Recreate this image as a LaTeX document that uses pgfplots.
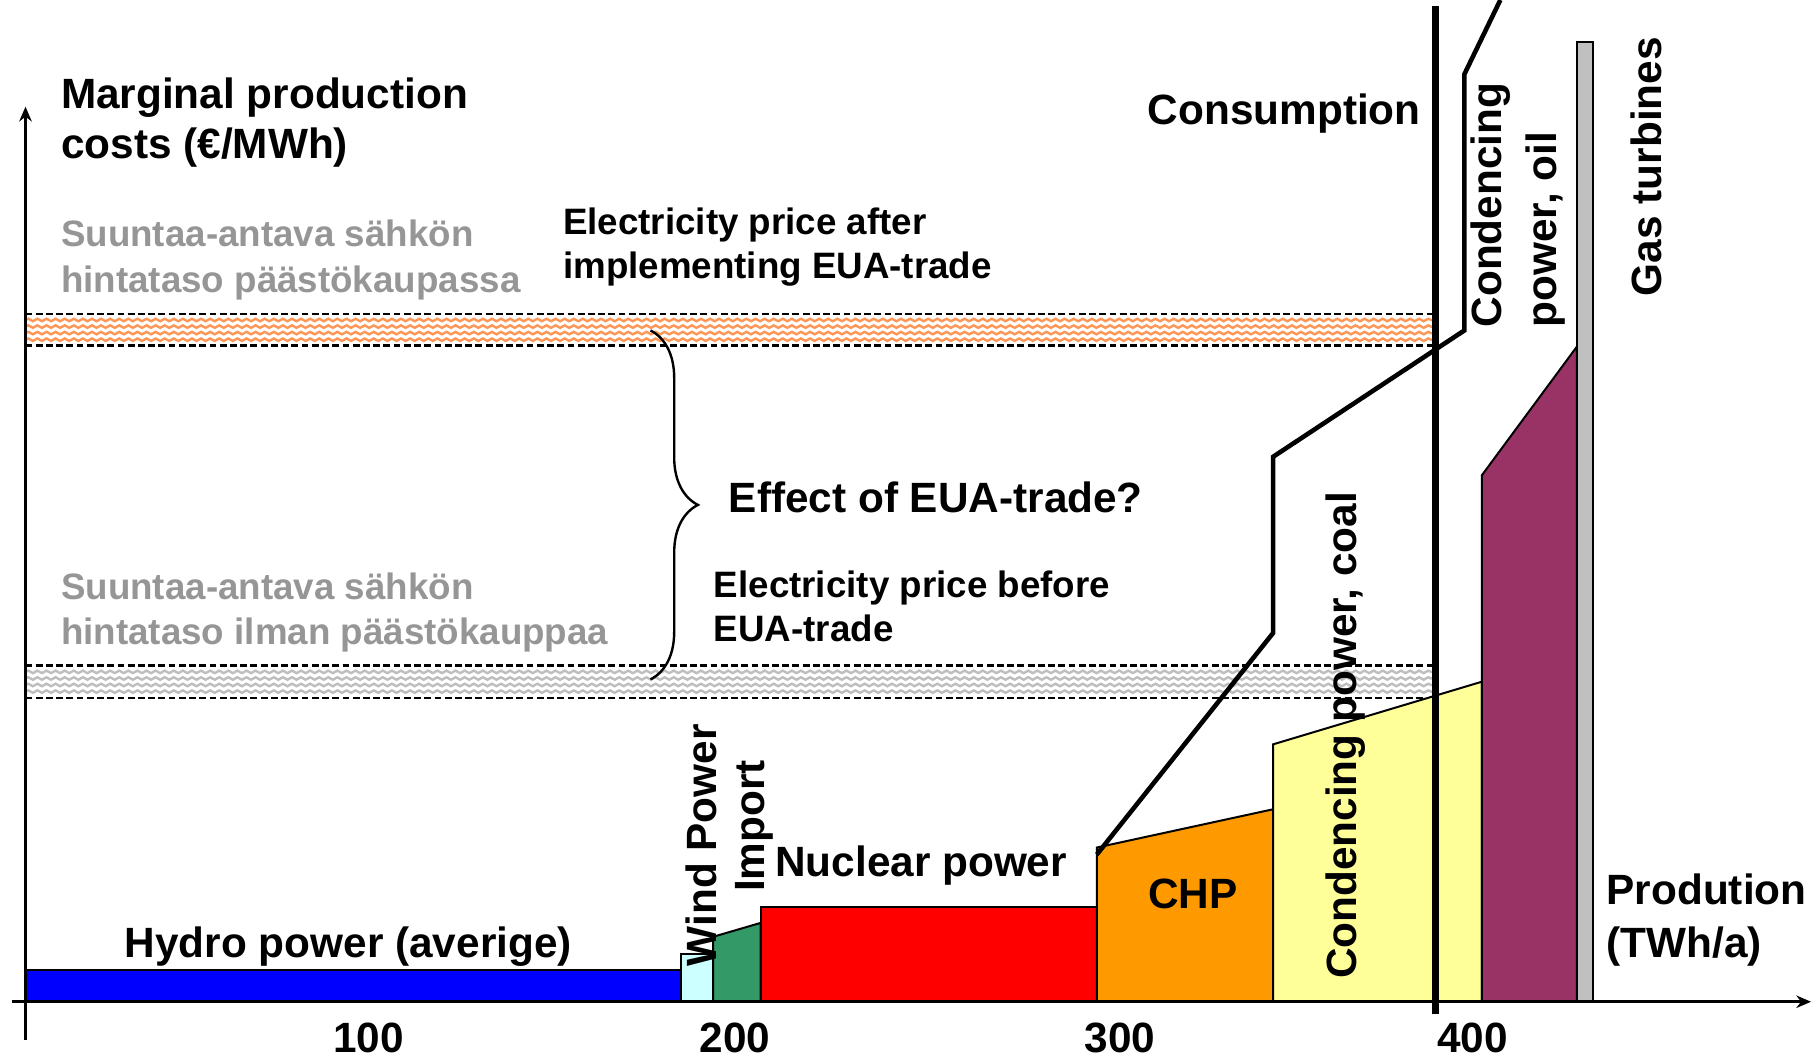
\documentclass[border=0pt]{standalone}
\usepackage{fontspec}
\setmainfont{Liberation Sans}
\usepackage{pgfplots}
\pgfplotsset{compat=1.18}
\usetikzlibrary{arrows.meta,decorations.pathmorphing,decorations.pathreplacing}

\definecolor{hydro}{RGB}{0,0,255}
\definecolor{wind}{RGB}{204,255,255}
\definecolor{import}{RGB}{51,153,102}
\definecolor{nuclear}{RGB}{255,0,0}
\definecolor{chp}{RGB}{255,153,0}
\definecolor{coal}{RGB}{255,255,153}
\definecolor{oil}{RGB}{153,51,102}
\definecolor{gas}{RGB}{192,192,192}
\definecolor{txtgray}{RGB}{150,150,150}
\definecolor{waveorange}{RGB}{255,150,85}
\definecolor{wavegray}{RGB}{190,190,190}

\newcommand\Lfont{\fontsize{10.6}{12.7}\selectfont\bfseries}
\newcommand\Sfont{\fontsize{9.2}{11.3}\selectfont\bfseries}

\pgfplotsset{
  wave/.style={line width=0.6pt, decorate, decoration={snake, amplitude=0.11mm, segment length=0.8mm}},
  bandedge/.style={black, line width=0.6pt, dash pattern=on 0.6mm off 0.3mm},
  block/.style={draw=black, line width=0.5pt},
}

\begin{document}
\begin{tikzpicture}
\begin{axis}[
  scale only axis, width=16cm, height=9.3163cm,
  xmin=-22, xmax=1546, ymin=-49, ymax=864,
  axis lines=middle, axis line style={draw=none,-},
  ytick=\empty, xtick={296,612,944,1248},
  xticklabels={\textbf{100},\textbf{200},\textbf{300},\textbf{400}},
  major tick length=0pt,
  xticklabel style={font=\Lfont, anchor=base, yshift=-0.449cm, inner sep=0pt},
  clip=false,
]
% ---- price bands (after / before EUA-trade)
\addplot[waveorange, wave] coordinates {(0,571) (1216,571)};
\addplot[waveorange, wave] coordinates {(0,576.7) (1216,576.7)};
\addplot[waveorange, wave] coordinates {(0,582.3) (1216,582.3)};
\addplot[waveorange, wave] coordinates {(0,588) (1216,588)};
\addplot[wavegray, wave] coordinates {(0,267.5) (1216,267.5)};
\addplot[wavegray, wave] coordinates {(0,273.2) (1216,273.2)};
\addplot[wavegray, wave] coordinates {(0,278.8) (1216,278.8)};
\addplot[wavegray, wave] coordinates {(0,284.5) (1216,284.5)};
\addplot[bandedge] coordinates {(0,593) (1216,593)};
\addplot[bandedge] coordinates {(0,566) (1216,566)};
\addplot[bandedge] coordinates {(0,290) (1216,290)};
\addplot[bandedge] coordinates {(0,262) (1216,262)};

% ---- merit order blocks
\addplot[fill=hydro, block] coordinates {(0,0) (0,27) (565,27) (565,0)} -- cycle;
\addplot[fill=wind, block] coordinates {(565,0) (565,41) (593,41) (593,0)} -- cycle;
\addplot[fill=import, block] coordinates {(593,0) (593,56) (634,68) (634,0)} -- cycle;
\addplot[fill=nuclear, block] coordinates {(634,0) (634,82) (924,82) (924,0)} -- cycle;
\addplot[fill=chp, block] coordinates {(924,0) (924,133) (1076,166) (1076,0)} -- cycle;
\addplot[fill=coal, block] coordinates {(1076,0) (1076,222) (1256,276) (1256,0)} -- cycle;
\addplot[fill=oil, block] coordinates {(1256,0) (1256,454) (1338,565) (1338,0)} -- cycle;
\addplot[fill=gas, block] coordinates {(1338,0) (1338,828) (1352,828) (1352,0)} -- cycle;

% ---- brace
\draw[decorate, decoration={brace, amplitude=0.418cm}, line width=0.6pt] (axis cs:539,579) -- (axis cs:539,278);

% ---- supply curve after EUA-trade and consumption
\addplot[black, line width=1.15pt, line join=miter] coordinates {(924,127) (1076,318) (1076,470) (1241,579) (1241,800) (1272,864)};
\addplot[black, line width=1.6pt] coordinates {(1216,-11) (1216,859)};

% ---- axes
\draw[line width=0.65pt, -{Stealth[length=1.3mm,width=1.1mm]}] (axis cs:0,-33) -- (axis cs:0,772);
\draw[line width=0.65pt, -{Stealth[length=1.3mm,width=1.1mm]}] (axis cs:-12,0) -- (axis cs:1540,0);

% ---- texts
\node[anchor=base west, inner sep=0, font=\Lfont] at (axis cs:30,770) {Marginal production};
\node[anchor=base west, inner sep=0, font=\Lfont] at (axis cs:30,727) {costs (€/MWh)};
\node[anchor=base west, inner sep=0, font=\Sfont, text=txtgray] at (axis cs:30,651) {Suuntaa-antava sähkön};
\node[anchor=base west, inner sep=0, font=\Sfont, text=txtgray] at (axis cs:30,612) {hintataso päästökaupassa};
\node[anchor=base west, inner sep=0, font=\Sfont] at (axis cs:463,662) {Electricity price after};
\node[anchor=base west, inner sep=0, font=\Sfont] at (axis cs:463,624) {implementing EUA-trade};
\node[anchor=base west, inner sep=0, font=\Lfont] at (axis cs:606,422) {Effect of EUA-trade?};
\node[anchor=base west, inner sep=0, font=\Sfont, text=txtgray] at (axis cs:30,347) {Suuntaa-antava sähkön};
\node[anchor=base west, inner sep=0, font=\Sfont, text=txtgray] at (axis cs:30,308) {hintataso ilman päästökauppaa};
\node[anchor=base west, inner sep=0, font=\Sfont] at (axis cs:593,349) {Electricity price before};
\node[anchor=base west, inner sep=0, font=\Sfont] at (axis cs:593,311) {EUA-trade};
\node[anchor=base east, inner sep=0, font=\Lfont] at (axis cs:1204,757) {Consumption};
\node[anchor=base west, inner sep=0, font=\Lfont] at (axis cs:85,38) {Hydro power (averige)};
\node[anchor=base west, inner sep=0, font=\Lfont] at (axis cs:646,108) {Nuclear power};
\node[anchor=base, inner sep=0, font=\Lfont] at (axis cs:1007,80) {CHP};
\node[anchor=base west, inner sep=0, font=\Lfont] at (axis cs:1363,84) {Prodution};
\node[anchor=base west, inner sep=0, font=\Lfont] at (axis cs:1363,38) {(TWh/a)};
\node[rotate=90, anchor=west, inner sep=0, font=\Lfont] at (axis cs:583,30) {Wind Power};
\node[rotate=90, anchor=west, inner sep=0, font=\Lfont] at (axis cs:628.6,94) {Import};
\node[rotate=90, anchor=west, inner sep=0, font=\Lfont] at (axis cs:1138.6,19) {Condencing power, coal};
\node[rotate=90, anchor=west, inner sep=0, font=\Lfont] at (axis cs:1264,581) {Condencing};
\node[rotate=90, anchor=west, inner sep=0, font=\Lfont] at (axis cs:1310.6,581) {power, oil};
\node[rotate=90, anchor=west, inner sep=0, font=\Lfont] at (axis cs:1398,608) {Gas turbines};
\end{axis}
\pgfresetboundingbox
\useasboundingbox (current axis.south west) rectangle (current axis.north east);
\end{tikzpicture}
\end{document}
